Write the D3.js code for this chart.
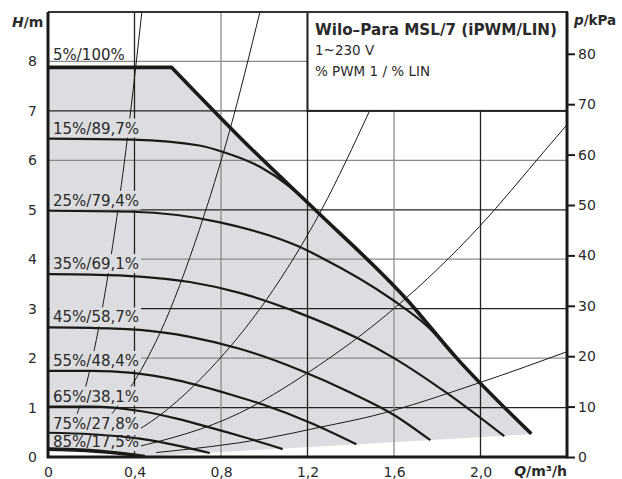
<!DOCTYPE html>
<html>
<head>
<meta charset="utf-8">
<script src="https://cdn.jsdelivr.net/npm/d3@7"></script>
<style>
body { margin: 0; background: #fff; }
text { font-family: "DejaVu Sans", sans-serif; fill: #2a2a2a; }
</style>
</head>
<body>
<script>
// pump curves, [Q m3/h, H m]
const labels = ['5%/100%', '15%/89,7%', '25%/79,4%', '35%/69,1%', '45%/58,7%',
                '55%/48,4%', '65%/38,1%', '75%/27,8%', '85%/17,5%']
const cMax = [[0, 7.88], [0.572, 7.88], [0.946, 6.21], [1.24, 4.98], [1.66, 3.18],
              [1.89, 2.0], [2.235, 0.47]]
const c15 = [[0, 6.44], [0.39, 6.42], [0.70, 6.30], [0.81, 6.17], [0.98, 5.87], [1.117, 5.47], [1.24, 4.98]]
const c25 = [[0, 4.98], [0.39, 4.96], [0.79, 4.75], [1.163, 4.25], [1.256, 4.05], [1.593, 3.18], [1.75, 2.66], [1.89, 2.0]]
const c35 = [[0, 3.70], [0.2, 3.69], [0.425, 3.65], [0.656, 3.54], [0.886, 3.32], [1.163, 2.91],
             [1.427, 2.41], [1.6, 2.0], [1.842, 1.3], [2.11, 0.42]]
const c45 = [[0, 2.62], [0.2, 2.61], [0.425, 2.57], [0.656, 2.43], [0.886, 2.19], [1.163, 1.76],
             [1.4, 1.3], [1.6, 0.85], [1.768, 0.34]]
const c55 = [[0, 1.74], [0.2, 1.74], [0.39, 1.70], [0.6, 1.55], [0.855, 1.25], [1.0, 1.05], [1.21, 0.70], [1.426, 0.26]]
const c65 = [[0, 1.02], [0.2, 1.02], [0.425, 0.93], [0.6, 0.77], [0.73, 0.62], [0.9, 0.41], [1.085, 0.16]]
const c75 = [[0, 0.49], [0.2, 0.46], [0.425, 0.37], [0.6, 0.23], [0.748, 0.08]]
const c85 = [[0, 0.16], [0.15, 0.14], [0.27, 0.1], [0.36, 0.06], [0.448, 0.01]]
// lower edge of the grey working range
const lowerEdge = [[2.235, 0.46], [0.448, 0.01]]

// system curves (thin lines)
const sys1 = [[0.1, 0.48], [0.18, 1.52], [0.25, 2.98], [0.36, 6.2], [0.434, 9.0]]
const sys2 = [[0.2, 0.38], [0.3, 0.9], [0.448, 1.9], [0.517, 2.5], [0.7, 4.6], [0.84, 6.6], [0.98, 9.0]]
const sys3 = [[0.35, 0.39], [0.44, 0.61], [0.75, 1.78], [1.01, 3.18], [1.265, 5.0], [1.487, 7.0], [1.55, 7.6]]
const sys4 = [[0.4, 0.19], [0.886, 0.89], [1.2, 1.7], [1.61, 3.04], [1.995, 4.66], [2.3, 6.21], [2.4, 6.72]]
const sys5 = [[0.5, 0.09], [1.0, 0.37], [1.256, 0.6], [1.5, 0.83], [1.994, 1.5], [2.4, 2.13]]

const qTicks = [0, 0.4, 0.8, 1.2, 1.6, 2.0]
const hTicks = [0, 1, 2, 3, 4, 5, 6, 7, 8]
const pTicks = [0, 10, 20, 30, 40, 50, 60, 70, 80]

const speedCurves = [cMax, c15, c25, c35, c45, c55, c65, c75, c85]
const sysCurves = [sys1, sys2, sys3, sys4, sys5]

const W = 622, H = 479
const svg = d3.select('body').append('svg')
    .attr('width', W)
    .attr('height', H)

const x = d3.scaleLinear().domain([0, 2.4]).range([48, 567])
const y = d3.scaleLinear().domain([0, 9]).range([457, 12])
const yP = d3.scaleLinear().domain([0, 9 * 9.81]).range([457, 12])

const grey = '#dcdde0'
// how far each label sits above the start of its curve (px)
const labelGap = [7, 5, 5, 5, 5, 5, 5, 4, 2]

svg.append('clipPath').attr('id', 'plot')
  .append('rect')
    .attr('x', x(0)).attr('y', y(9))
    .attr('width', x(2.4) - x(0)).attr('height', y(0) - y(9))

// layers, bottom to top
const gFill = svg.append('g')
const gGrid = svg.append('g')
const gSys = svg.append('g').attr('clip-path', 'url(#plot)')
const gLabBg = svg.append('g')
const gCurves = svg.append('g')
const gLabTxt = svg.append('g')
const gBox = svg.append('g')
const gAxes = svg.append('g')

const line = d3.line().x(d => x(d[0])).y(d => y(d[1]))
const smooth = d3.line().x(d => x(d[0])).y(d => y(d[1])).curve(d3.curveMonotoneX)

// grey area of the control range
const area = cMax.concat(lowerEdge, c85.slice().reverse())
gFill.append('path')
    .attr('d', line(area) + 'Z')
    .attr('fill', grey)

// grid
gGrid.selectAll('.hg')
  .data(hTicks.slice(1))
  .enter().append('line')
    .attr('class', 'hg')
    .attr('x1', x(0)).attr('x2', x(2.4))
    .attr('y1', d => y(d)).attr('y2', d => y(d))
    .attr('stroke', (d, i) => i % 2 == 0 ? '#222' : '#8a8a8a')
    .attr('stroke-width', 1.3)
gGrid.selectAll('.vg')
  .data(qTicks.slice(1))
  .enter().append('line')
    .attr('class', 'vg')
    .attr('x1', d => x(d)).attr('x2', d => x(d))
    .attr('y1', y(0)).attr('y2', y(9))
    .attr('stroke', (d, i) => i % 2 == 0 ? '#222' : '#8a8a8a')
    .attr('stroke-width', 1.3)

// system curves
gSys.selectAll('path')
  .data(sysCurves)
  .enter().append('path')
    .attr('d', d => smooth(d))
    .attr('fill', 'none')
    .attr('stroke', '#1a1a1a')
    .attr('stroke-width', 1)

// curve labels, with a grey knock-out behind them
gLabTxt.selectAll('text')
  .data(labels)
  .enter().append('text')
    .attr('x', 53)
    .attr('y', (d, i) => y(speedCurves[i][0][1]) - labelGap[i])
    .attr('font-size', '15px')
    .text(d => d)
gLabTxt.selectAll('text').each(function(d, i) {
    if (i == 0) return
    const b = this.getBBox()
    gLabBg.append('rect')
        .attr('x', 50).attr('y', b.y - 1)
        .attr('width', b.x + b.width + 2 - 50)
        .attr('height', b.height + 1)
        .attr('fill', grey)
})

// speed curves; the max curve is flat first, then falls
const maxPath = line(cMax.slice(0, 2)) + smooth(cMax.slice(1)).replace(/^M[^C]*/, '')
gCurves.selectAll('path')
  .data(speedCurves)
  .enter().append('path')
    .attr('d', (d, i) => i == 0 ? maxPath : smooth(d))
    .attr('fill', 'none')
    .attr('stroke', '#1a1a1a')
    .attr('stroke-linejoin', 'round')
    .attr('stroke-width', (d, i) => (i == 0 || i == 8) ? 3.6 : 2.2)

// title box
gBox.append('rect')
    .attr('x', x(1.2)).attr('y', y(9))
    .attr('width', x(2.4) - x(1.2)).attr('height', y(7) - y(9))
    .attr('fill', '#fff')
    .attr('stroke', '#222')
    .attr('stroke-width', 2)
gBox.append('text')
    .attr('x', 315).attr('y', 35)
    .attr('font-size', '15.2px').attr('font-weight', 'bold')
    .text('Wilo–Para MSL/7 (iPWM/LIN)')
gBox.append('text')
    .attr('x', 315).attr('y', 55)
    .attr('font-size', '13.5px')
    .text('1~230 V')
gBox.append('text')
    .attr('x', 315).attr('y', 76)
    .attr('font-size', '13.5px')
    .text('% PWM 1 / % LIN')

// frame
gAxes.append('line')
    .attr('x1', x(0)).attr('x2', x(2.4)).attr('y1', y(9)).attr('y2', y(9))
    .attr('stroke', '#333').attr('stroke-width', 2)
gAxes.append('path')
    .attr('d', `M${x(0)},${y(9)}V${y(0)}H${x(2.4)}V${y(9)}`)
    .attr('fill', 'none')
    .attr('stroke', '#1a1a1a')
    .attr('stroke-width', 3)

// axes
const fmt = d => d == 0 ? '0' : d3.format('.1f')(d).replace('.', ',')
const ax = gAxes.append('g')
    .attr('transform', `translate(0,${y(0)})`)
    .call(d3.axisBottom(x).tickValues(qTicks).tickFormat(fmt).tickSize(0).tickPadding(10))
const ay = gAxes.append('g')
    .attr('transform', `translate(${x(0)},0)`)
    .call(d3.axisLeft(y).tickValues(hTicks).tickSize(0).tickPadding(11))
const ap = gAxes.append('g')
    .attr('transform', `translate(${x(2.4)},0)`)
    .call(d3.axisRight(yP).tickValues(pTicks).tickSize(8).tickPadding(3))
;[ax, ay, ap].forEach(a => {
    a.select('.domain').remove()
    a.selectAll('text')
        .attr('font-size', '14px')
        .attr('font-family', '"DejaVu Sans", sans-serif')
        .attr('fill', '#2a2a2a')
})
ap.selectAll('line').attr('stroke', '#1a1a1a').attr('stroke-width', 2)

// axis titles
const t1 = gAxes.append('text').attr('x', 12).attr('y', 27)
    .attr('font-size', '14px').attr('font-weight', 'bold')
t1.append('tspan').attr('font-style', 'italic').text('H')
t1.append('tspan').text('/m')
const t2 = gAxes.append('text').attr('x', 574).attr('y', 25)
    .attr('font-size', '13.5px').attr('font-weight', 'bold')
t2.append('tspan').attr('font-style', 'italic').text('p')
t2.append('tspan').text('/kPa')
const t3 = gAxes.append('text').attr('x', 567).attr('y', 476)
    .attr('text-anchor', 'end')
    .attr('font-size', '14px').attr('font-weight', 'bold')
t3.append('tspan').attr('font-style', 'italic').text('Q')
t3.append('tspan').text('/m³/h')
</script>
</body>
</html>
